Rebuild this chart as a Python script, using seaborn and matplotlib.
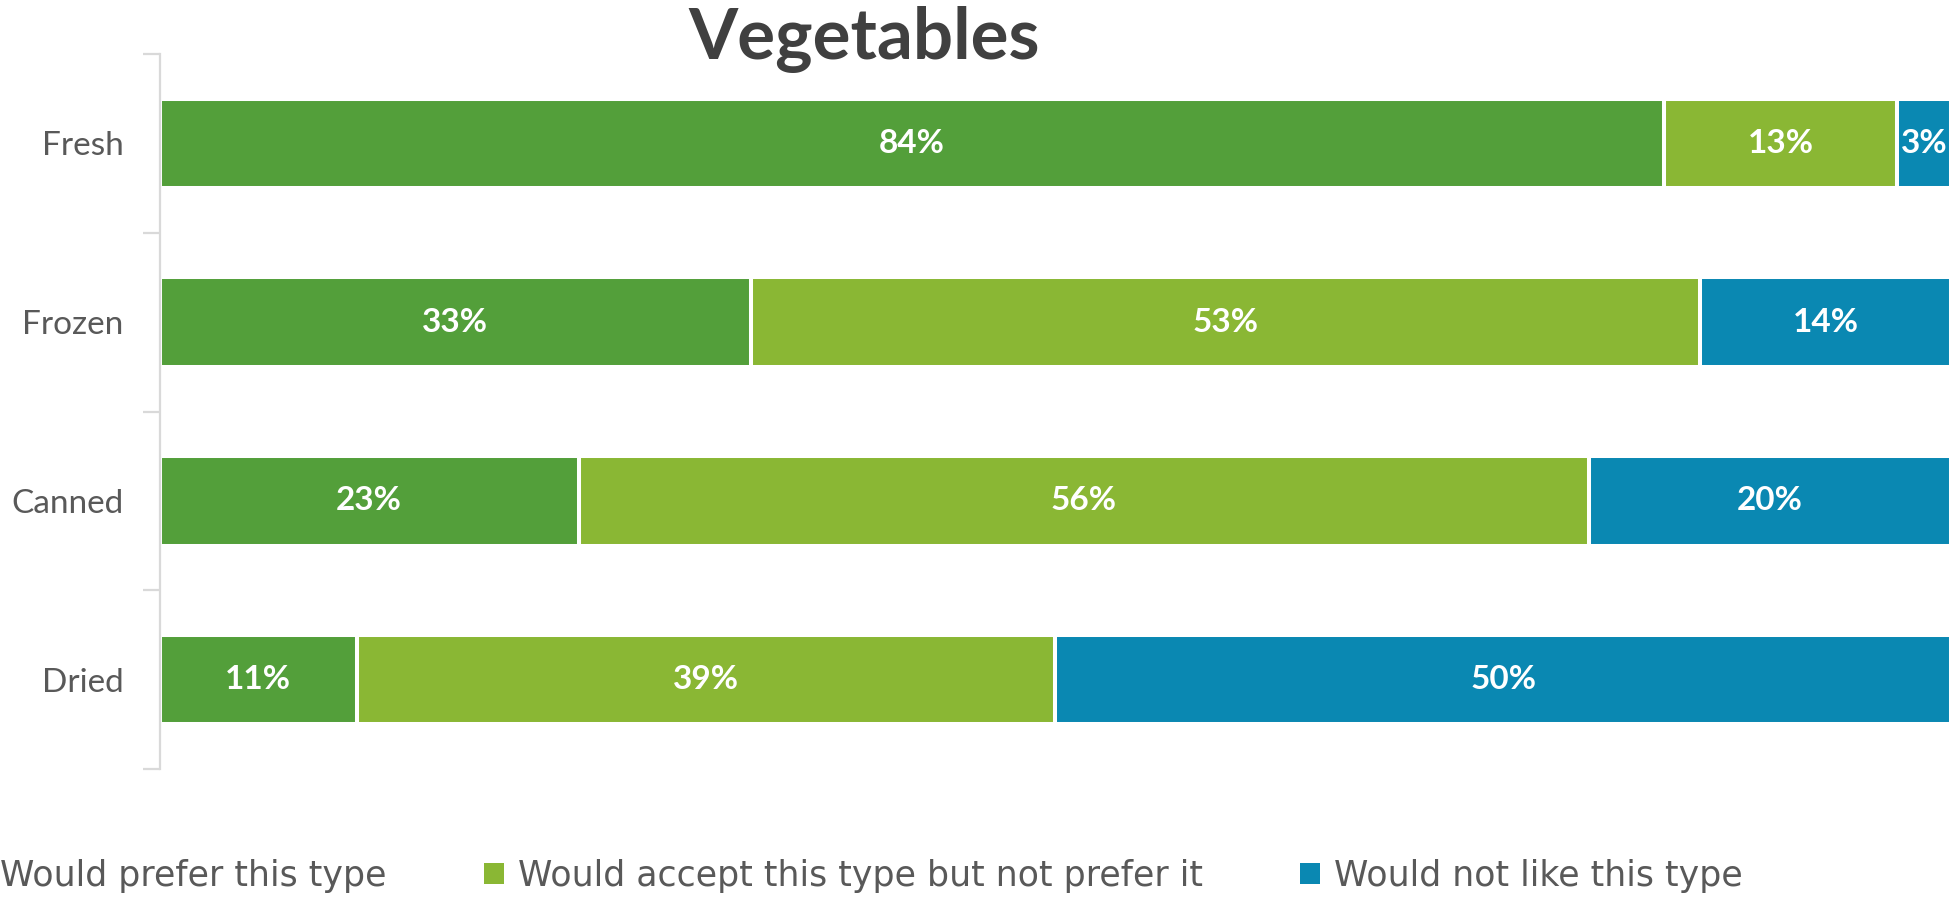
import numpy as np
import pandas as pd
import matplotlib
matplotlib.use("Agg")
import matplotlib.pyplot as plt
from matplotlib.patches import Patch
import seaborn as sns

# Survey shares per vegetable type (percent)
types = ["Fresh", "Frozen", "Canned", "Dried"]
prefer = [84.0, 33.0, 23.4, 11.0]
accept = [13.0, 53.0, 56.4, 39.0]
dislike = [3.0, 14.0, 20.2, 50.0]

series_names = [
    "Would prefer this type",
    "Would accept this type but not prefer it",
    "Would not like this type",
]
series_colors = ["#539F3A", "#8AB734", "#0A88B2"]

sns.set_theme(style="white")
plt.rcParams["font.family"] = ["Lato", "DejaVu Sans"]

df = pd.DataFrame({"type": types, "prefer": prefer, "accept": accept, "dislike": dislike})
df["c1"] = df["prefer"]
df["c2"] = df["prefer"] + df["accept"]
df["c3"] = df["c2"] + df["dislike"]

fig = plt.figure(figsize=(19.54, 9.0), dpi=100)
ax = fig.add_axes([159.5 / 1954, 1 - 769 / 900, (1951 - 159.5) / 1954, (769 - 54) / 900])

# stacked bars: draw cumulative totals from the outermost layer inward
for col, color in zip(["c3", "c2", "c1"], series_colors[::-1]):
    sns.barplot(data=df, x=col, y="type", order=types, orient="h", color=color,
                width=0.5, edgecolor="white", linewidth=2.9, saturation=1,
                ax=ax, errorbar=None)

# value labels centred in each segment
for i, t in enumerate(types):
    row = df.iloc[i]
    lefts = [0, row["c1"], row["c2"]]
    vals = [row["prefer"], row["accept"], row["dislike"]]
    for left, v in zip(lefts, vals):
        ax.text(left + v / 2, i, f"{v:.0f}%", ha="center", va="center",
                color="white", fontsize=24, fontweight="bold")

ax.set_xlim(0, 100)
ax.set_ylim(3.5, -0.5)
ax.set_xlabel("")
ax.set_ylabel("")
ax.set_xticks([])
for s in ["top", "right", "bottom"]:
    ax.spines[s].set_visible(False)
ax.spines["left"].set_color("#D9D9D9")
ax.spines["left"].set_linewidth(1.6)

ax.set_yticks(range(len(types)))
ax.set_yticklabels(types)
ax.tick_params(axis="y", which="major", length=0, pad=26, labelsize=24, labelcolor="#595959")
ax.set_yticks(np.arange(-0.5, len(types)), minor=True)
ax.tick_params(axis="y", which="minor", length=12, width=1.6, color="#D9D9D9", direction="out", left=True)

fig.text(864 / 1954, 1 - 59 / 900, "Vegetables", ha="center", va="baseline",
         fontsize=51, fontweight="bold", color="#404040")

handles = [Patch(facecolor=c, edgecolor="none", label=n) for c, n in zip(series_colors, series_names)]
fs = 25
fpx = fs * 100 / 72
leg = fig.legend(handles=handles, loc="center left", bbox_to_anchor=(-34 / 1954, 1 - 876 / 900),
                 ncol=3, frameon=False, borderpad=0, borderaxespad=0,
                 prop={"family": ["DejaVu Sans"], "size": fs},
                 handlelength=20 / fpx, handleheight=20 / fpx, handletextpad=14 / fpx,
                 columnspacing=97 / fpx)
for txt in leg.get_texts():
    txt.set_color("#595959")

fig.savefig("out.png", dpi=100, facecolor="white")
